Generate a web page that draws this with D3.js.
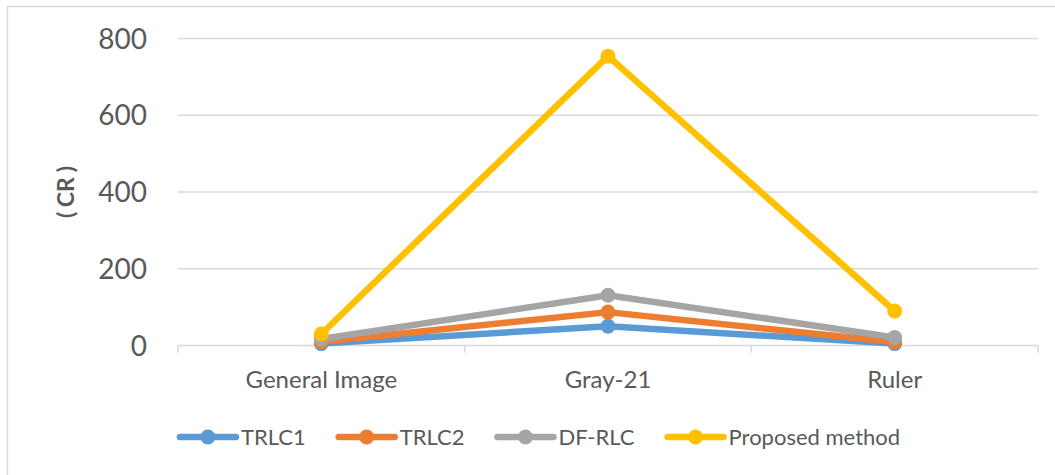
<!DOCTYPE html>
<meta charset="utf-8">
<style>
  body { margin: 0; background: #fff; }
  text { font-family: Lato, "Liberation Sans", sans-serif; fill: #595959; }
</style>
<svg width="1055" height="475"></svg>
<script src="https://d3js.org/d3.v7.min.js"></script>
<script>

var categories = ["General Image", "Gray-21", "Ruler"]
var seriesNames = ["TRLC1", "TRLC2", "DF-RLC", "Proposed method"]
var trlc1 = [5, 50, 5]
var trlc2 = [10, 87, 9]
var dfrlc = [17, 131, 21]
var proposed = [30, 754, 90]
var yTicks = [0, 200, 400, 600, 800]

var colors = ["#5B9BD5", "#ED7D31", "#A5A5A5", "#FFC000"]
var seriesValues = [trlc1, trlc2, dfrlc, proposed]

var svg = d3.select("svg")

// chart frame (only left/top visible in the picture)
svg.append("rect")
  .attr("x", 7.5).attr("y", 6.5)
  .attr("width", 1060).attr("height", 480)
  .attr("fill", "none").attr("stroke", "#d9d9d9").attr("stroke-width", 1.5)

var x = d3.scaleBand().domain(categories).range([178, 1038])
var y = d3.scaleLinear().domain([0, 800]).range([345.5, 38.5])

// gridlines
svg.append("g").selectAll("line")
  .data(yTicks.filter(function (d) { return d > 0 }))
  .join("line")
  .attr("x1", 178).attr("x2", 1038)
  .attr("y1", function (d) { return y(d) }).attr("y2", function (d) { return y(d) })
  .attr("stroke", "#d9d9d9").attr("stroke-width", 1.5)

// y tick labels
svg.append("g").selectAll("text")
  .data(yTicks)
  .join("text")
  .attr("x", 147)
  .attr("y", function (d) { return y(d) })
  .attr("dy", "0.36em")
  .attr("text-anchor", "end")
  .attr("font-size", 28)
  .text(function (d) { return d })

// category axis
var xAxis = svg.append("g")
xAxis.append("line")
  .attr("x1", 178).attr("x2", 1038)
  .attr("y1", y(0)).attr("y2", y(0))
  .attr("stroke", "#d9d9d9").attr("stroke-width", 1.5)
var bounds = categories.map(function (c) { return x(c) }).concat([x.range()[1]])
xAxis.selectAll("line.tick")
  .data(bounds)
  .join("line")
  .attr("class", "tick")
  .attr("x1", function (d) { return d }).attr("x2", function (d) { return d })
  .attr("y1", y(0)).attr("y2", y(0) + 7)
  .attr("stroke", "#d9d9d9").attr("stroke-width", 1.5)
xAxis.selectAll("text")
  .data(categories)
  .join("text")
  .attr("x", function (d) { return x(d) + x.bandwidth() / 2 })
  .attr("y", 388)
  .attr("text-anchor", "middle")
  .attr("font-size", 24)
  .text(function (d) { return d })

// axis title: parentheses set a little apart from the letters
var title = svg.append("text")
  .attr("transform", "translate(74," + y(400) + ") rotate(-90)")
  .attr("text-anchor", "middle")
  .attr("font-size", 23)
  .attr("font-weight", "bold")
title.append("tspan").text("(")
title.append("tspan").attr("dx", 5).text("CR")
title.append("tspan").attr("dx", 5).text(")")

// series
var line = d3.line()
  .x(function (d, i) { return x(categories[i]) + x.bandwidth() / 2 })
  .y(function (d) { return y(d) })

seriesValues.forEach(function (vals, s) {
  var g = svg.append("g")
  g.append("path")
    .attr("d", line(vals))
    .attr("fill", "none")
    .attr("stroke", colors[s])
    .attr("stroke-width", 6.5)
    .attr("stroke-linejoin", "round")
    .attr("stroke-linecap", "round")
  g.selectAll("circle")
    .data(vals)
    .join("circle")
    .attr("cx", function (d, i) { return x(categories[i]) + x.bandwidth() / 2 })
    .attr("cy", function (d) { return y(d) })
    .attr("r", 7.5)
    .attr("fill", colors[s])
})

// legend
var legend = svg.append("g")
var lx = 0
seriesNames.forEach(function (name, s) {
  var item = legend.append("g")
  item.append("line")
    .attr("x1", 0).attr("x2", 56).attr("y1", 0).attr("y2", 0)
    .attr("stroke", colors[s]).attr("stroke-width", 6.5).attr("stroke-linecap", "round")
  item.append("circle").attr("cx", 28).attr("cy", 0).attr("r", 7.5).attr("fill", colors[s])
  var t = item.append("text")
    .attr("x", 61).attr("y", 0).attr("dy", "0.36em")
    .attr("font-size", 22)
    .text(name)
  var w = 61 + t.node().getComputedTextLength()
  item.attr("transform", "translate(" + lx + ",0)")
  lx += w + 33
})
var total = lx - 33
legend.attr("transform", "translate(" + (540 - total / 2) + ",437)")

</script>
